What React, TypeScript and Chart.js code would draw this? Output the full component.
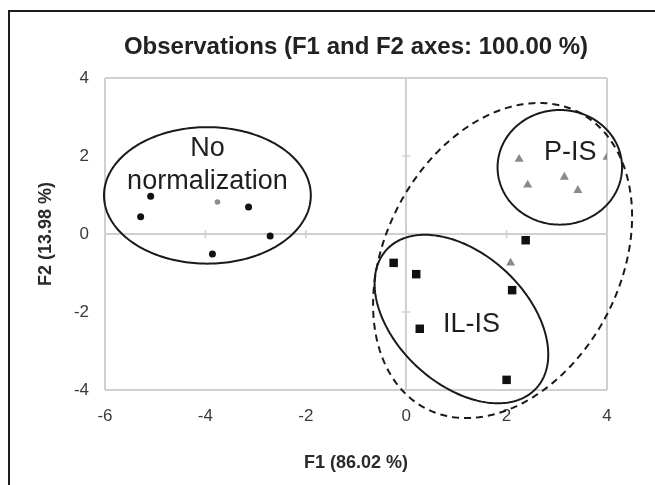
import { useEffect, useRef } from 'react';
import { Chart, registerables } from 'chart.js';

Chart.register(...registerables);

// Observation scores on the first two factor axes
const noNormX = [-5.09, -5.29, -3.14, -2.71, -3.86];
const noNormY = [0.97, 0.44, 0.69, -0.05, -0.51];
const noNormFaintX = [-3.76];
const noNormFaintY = [0.82];
const ilisX = [2.38, -0.25, 0.2, 2.11, 0.27, 2.0];
const ilisY = [-0.16, -0.74, -1.03, -1.44, -2.43, -3.74];
const pisX = [2.25, 2.42, 3.15, 3.42, 4.0, 2.08];
const pisY = [1.92, 1.26, 1.46, 1.12, 1.97, -0.74];

const xTicks = [-6, -4, -2, 0, 2, 4];
const yTicks = [-4, -2, 0, 2, 4];

// Group envelopes (data units): centre, half extents along x / y, x-y tilt
const envelopeCx = [-3.96, 1.1, 3.06, 1.92];
const envelopeCy = [0.99, -2.18, 1.71, -0.68];
const envelopeRx = [2.06, 1.73, 1.24, 2.58];
const envelopeRy = [1.75, 2.16, 1.47, 4.04];
const envelopeTilt = [0, -0.42, 0, 0.28];
const envelopeDashed = [false, false, false, true];

// Group names written inside the envelopes
const groupLabels = [['No', 'normalization'], ['IL-IS'], ['P-IS']];
const groupLabelX = [-3.96, 1.3, 3.27];
const groupLabelY = [1.77, -2.33, 2.08];

const toPoints = (xs: number[], ys: number[]) => xs.map((x, i) => ({ x, y: ys[i] }));

const FONT = "'Liberation Sans', Arial, sans-serif";

export default function App() {
  const ref = useRef<HTMLCanvasElement>(null);

  useEffect(() => {
    const canvas = ref.current;
    if (!canvas) return;

    const frameValuesX = [xTicks[0], 0, xTicks[xTicks.length - 1]];
    const frameValuesY = [yTicks[0], 0, yTicks[yTicks.length - 1]];

    const crossTicks = {
      id: 'crossTicks',
      beforeDatasetsDraw(chart: any) {
        const { ctx, scales } = chart;
        const xs = scales.x;
        const ys = scales.y;
        const x0 = xs.getPixelForValue(0);
        const y0 = ys.getPixelForValue(0);
        ctx.save();
        ctx.strokeStyle = '#cfcfcf';
        ctx.lineWidth = 1.5;
        ctx.beginPath();
        xTicks.forEach((v) => {
          const px = xs.getPixelForValue(v);
          ctx.moveTo(px, y0 - 4);
          ctx.lineTo(px, y0 + 4);
        });
        yTicks.forEach((v) => {
          const py = ys.getPixelForValue(v);
          ctx.moveTo(x0 - 4, py);
          ctx.lineTo(x0 + 4, py);
        });
        ctx.stroke();
        ctx.restore();
      },
    };

    const envelopes = {
      id: 'envelopes',
      beforeDatasetsDraw(chart: any) {
        const { ctx, scales } = chart;
        const xs = scales.x;
        const ys = scales.y;
        ctx.save();
        ctx.strokeStyle = '#1a1a1a';
        ctx.lineWidth = 2;
        envelopeCx.forEach((cx, i) => {
          const r = envelopeTilt[i];
          const q = Math.sqrt(1 - r * r);
          const steps = 240;
          ctx.beginPath();
          for (let k = 0; k <= steps; k++) {
            const t = (k / steps) * Math.PI * 2;
            const vx = cx + envelopeRx[i] * Math.cos(t);
            const vy = envelopeCy[i] + envelopeRy[i] * (r * Math.cos(t) + q * Math.sin(t));
            const px = xs.getPixelForValue(vx);
            const py = ys.getPixelForValue(vy);
            if (k === 0) ctx.moveTo(px, py);
            else ctx.lineTo(px, py);
          }
          ctx.closePath();
          ctx.setLineDash(envelopeDashed[i] ? [7, 5] : []);
          ctx.stroke();
        });
        ctx.setLineDash([]);

        ctx.fillStyle = '#1e1e1e';
        ctx.font = `27px ${FONT}`;
        ctx.textAlign = 'center';
        ctx.textBaseline = 'middle';
        const lineGap = 33;
        groupLabels.forEach((lines, i) => {
          const px = xs.getPixelForValue(groupLabelX[i]);
          const py = ys.getPixelForValue(groupLabelY[i]);
          const start = py - ((lines.length - 1) * lineGap) / 2;
          lines.forEach((line, j) => ctx.fillText(line, px, start + j * lineGap));
        });
        ctx.restore();
      },
    };

    const chart = new Chart(canvas, {
      type: 'scatter',
      data: {
        datasets: [
          {
            label: 'No normalization',
            data: toPoints(noNormX, noNormY),
            pointStyle: 'circle',
            pointRadius: 3.5,
            backgroundColor: '#111111',
            borderColor: '#111111',
            borderWidth: 0,
          },
          {
            label: 'No normalization (faint)',
            data: toPoints(noNormFaintX, noNormFaintY),
            pointStyle: 'circle',
            pointRadius: 2.8,
            backgroundColor: '#8c8c8c',
            borderColor: '#8c8c8c',
            borderWidth: 0,
          },
          {
            label: 'IL-IS',
            data: toPoints(ilisX, ilisY),
            pointStyle: 'rect',
            pointRadius: 6,
            backgroundColor: '#111111',
            borderColor: '#111111',
            borderWidth: 0,
          },
          {
            label: 'P-IS',
            data: toPoints(pisX, pisY),
            pointStyle: 'triangle',
            pointRadius: 5.2,
            backgroundColor: '#8a8a8a',
            borderColor: '#8a8a8a',
            borderWidth: 0,
          },
        ],
      },
      options: {
        animation: false,
        responsive: false,
        devicePixelRatio: 1,
        layout: { padding: { left: 0, right: 48, top: 0, bottom: 0 } },
        plugins: {
          legend: { display: false },
          tooltip: { enabled: false },
          title: {
            display: true,
            fullSize: false,
            text: 'Observations (F1 and F2 axes: 100.00 %)',
            color: '#222222',
            font: { family: FONT, size: 24, weight: 'bold' },
            padding: { top: 33, bottom: 16.2 },
          },
        },
        scales: {
          x: {
            type: 'linear',
            min: xTicks[0],
            max: xTicks[xTicks.length - 1],
            afterBuildTicks: (s: any) => {
              s.ticks = xTicks.map((value) => ({ value }));
            },
            afterFit: (s: any) => {
              s.height = 95;
            },
            border: { display: false },
            grid: {
              drawTicks: false,
              lineWidth: 2,
              color: (c: any) => (frameValuesX.includes(c.tick?.value) ? '#d0d0d0' : 'rgba(0,0,0,0)'),
            },
            ticks: {
              padding: 16,
              color: '#3a3a3a',
              font: { family: FONT, size: 17 },
              callback: (v: any) => String(v),
            },
            title: {
              display: true,
              text: 'F1 (86.02 %)',
              color: '#2a2a2a',
              font: { family: FONT, size: 18, weight: 'bold' },
              padding: { top: 0, bottom: 11.6 },
            },
          },
          y: {
            type: 'linear',
            min: yTicks[0],
            max: yTicks[yTicks.length - 1],
            afterBuildTicks: (s: any) => {
              s.ticks = yTicks.map((value) => ({ value }));
            },
            afterFit: (s: any) => {
              s.width = 105;
            },
            border: { display: false },
            grid: {
              drawTicks: false,
              lineWidth: 2,
              color: (c: any) => (frameValuesY.includes(c.tick?.value) ? '#d0d0d0' : 'rgba(0,0,0,0)'),
            },
            ticks: {
              padding: 16,
              color: '#3a3a3a',
              font: { family: FONT, size: 17 },
              callback: (v: any) => String(v),
            },
            title: {
              display: true,
              text: 'F2 (13.98 %)',
              color: '#2a2a2a',
              font: { family: FONT, size: 18, weight: 'bold' },
              padding: { top: 35, bottom: 0 },
            },
          },
        },
      },
      plugins: [crossTicks, envelopes],
    } as any);

    return () => chart.destroy();
  }, []);

  return (
    <div style={{ position: 'absolute', left: 0, top: 0, width: 655, height: 485, background: '#ffffff' }}>
      <div
        style={{
          position: 'absolute',
          left: 8,
          top: 10,
          right: 0,
          bottom: 0,
          borderLeft: '2px solid #1e1e1e',
          borderTop: '2px solid #1e1e1e',
        }}
      />
      <canvas ref={ref} width={655} height={485} style={{ position: 'absolute', left: 0, top: 0 }} />
    </div>
  );
}
